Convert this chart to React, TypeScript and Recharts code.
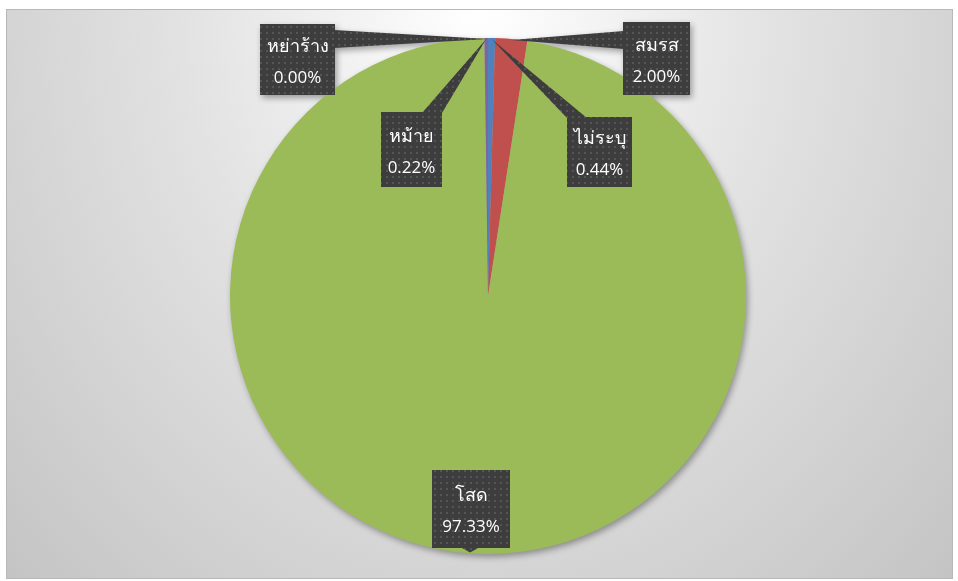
import React from 'react';
import { PieChart, Pie, Cell } from 'recharts';

const categories = ['ไม่ระบุ', 'สมรส', 'โสด', 'หม้าย', 'หย่าร้าง'];
const shares = [0.44, 2.0, 97.33, 0.22, 0.0];
const colors = ['#4f81bd', '#c0504d', '#9bbb59', '#8064a2', '#4bacc6'];

// label callout boxes: offset of box centre from the pie centre, and box size
const labelBoxes = [
  { dx: 111.5, dy: -144, w: 65, h: 70 },
  { dx: 168.5, dy: -237.5, w: 67, h: 73 },
  { dx: -17, dy: 213, w: 78, h: 78 },
  { dx: -76.5, dy: -146.5, w: 61, h: 75 },
  { dx: -190.5, dy: -236.5, w: 75, h: 71 },
];

const data = categories.map((name, i) => ({ name, value: shares[i] }));

const clamp = (v: number, lo: number, hi: number) => Math.max(lo, Math.min(hi, v));

function CalloutLabel(props: any) {
  const { cx, cy, midAngle, outerRadius, index } = props;
  const box = labelBoxes[index];
  if (!box) return null;
  const RAD = Math.PI / 180;
  const tipX = cx + (outerRadius - 1) * Math.cos(-midAngle * RAD);
  const tipY = cy + (outerRadius - 1) * Math.sin(-midAngle * RAD);
  const bx = cx + box.dx;
  const by = cy + box.dy;
  const left = bx - box.w / 2;
  const right = bx + box.w / 2;
  const top = by - box.h / 2;
  const bottom = by + box.h / 2;

  let base: [number, number][];
  if (tipY < top) {
    const x = clamp(tipX, left + 10, right - 10);
    base = [[x - 10, top + 1], [x + 10, top + 1]];
  } else if (tipY > bottom) {
    const x = clamp(tipX, left + 10, right - 10);
    base = [[x - 10, bottom - 1], [x + 10, bottom - 1]];
  } else if (tipX > right) {
    const y = clamp(tipY, top + 9, bottom - 9);
    base = [[right - 1, y - 9], [right - 1, y + 9]];
  } else {
    const y = clamp(tipY, top + 9, bottom - 9);
    base = [[left + 1, y - 9], [left + 1, y + 9]];
  }
  const pts = `${base[0][0]},${base[0][1]} ${tipX},${tipY} ${base[1][0]},${base[1][1]}`;
  const pid = `dots-${index}`;

  return (
    <g>
      <defs>
        <pattern id={pid} x={0} y={0} width={6} height={6} patternUnits="userSpaceOnUse">
          <rect width={6} height={6} fill="#3d3d3d" />
          <rect x={2} y={2} width={2} height={2} fill="#555555" />
        </pattern>
      </defs>
      <polygon points={pts} fill={`url(#${pid})`} />
      <rect x={left} y={top} width={box.w} height={box.h} fill={`url(#${pid})`} />
      <text
        x={bx}
        y={by - 8}
        textAnchor="middle"
        fill="#ffffff"
        fontSize={18}
        fontWeight="normal"
        fontFamily="'Noto Sans', 'DejaVu Sans', sans-serif"
      >
        {categories[index]}
      </text>
      <text
        x={bx}
        y={by + 23}
        textAnchor="middle"
        fill="#ffffff"
        fontSize={17}
        fontFamily="'Open Sans', 'Liberation Sans', sans-serif"
      >
        {shares[index].toFixed(2)}%
      </text>
    </g>
  );
}

export default function App() {
  return (
    <div style={{ position: 'absolute', left: 0, top: 0, width: 958, height: 581, background: '#ffffff' }}>
      <div
        style={{
          position: 'absolute',
          left: 6,
          top: 9,
          width: 945,
          height: 568,
          border: '1px solid #b8b8b8',
          background: 'radial-gradient(ellipse farthest-corner at 50% 0%, #ffffff 0%, #e2e2e2 45%, #c4c4c4 100%)',
        }}
      />
      <div
        style={{
          position: 'absolute',
          left: 0,
          top: 0,
          filter: 'drop-shadow(2px 3px 3px rgba(0,0,0,0.35))',
        }}
      >
        <PieChart width={958} height={581} margin={{ top: 0, right: 0, bottom: 0, left: 0 }}>
          <Pie
            data={data}
            dataKey="value"
            nameKey="name"
            cx={488}
            cy={296}
            outerRadius={258}
            startAngle={90}
            endAngle={-270}
            stroke="none"
            labelLine={false}
            label={CalloutLabel}
            isAnimationActive={false}
          >
            {data.map((d, i) => (
              <Cell key={d.name} fill={colors[i]} />
            ))}
          </Pie>
        </PieChart>
      </div>
    </div>
  );
}
